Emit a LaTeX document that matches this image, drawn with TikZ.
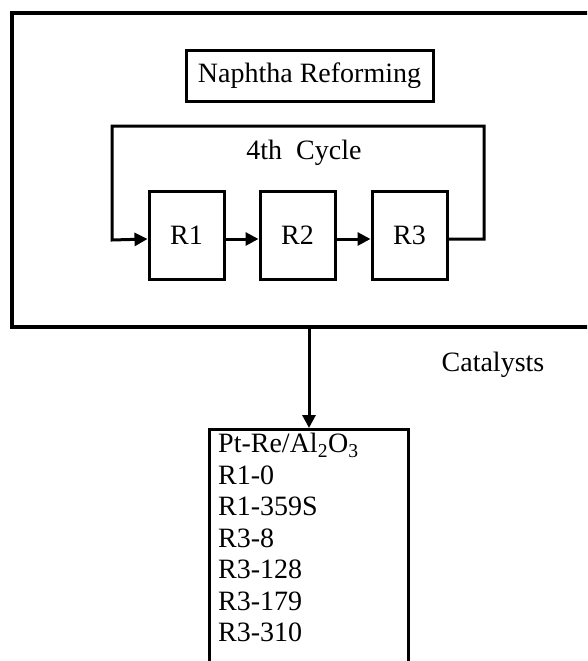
\documentclass[tikz,border=0pt]{standalone}
\usepackage{fontspec}
\setmainfont{Liberation Serif}
\usetikzlibrary{arrows.meta}

\begin{document}
\begin{tikzpicture}[x=1pt,y=-1pt,
  font=\fontsize{28}{31.5}\selectfont,
  box/.style={draw,line width=3pt,inner sep=0pt},
  flow/.style={line width=3pt,-{Triangle[length=13pt,width=13pt]}}]
\useasboundingbox (0,0) rectangle (587,661);
\clip (0,0) rectangle (587,661);
\node (OUTER) [draw,line width=4pt,minimum width=600pt,minimum height=314pt] at (312,170) {};
\node (NAPH) [box,minimum width=247pt,minimum height=50pt] at (309.5,76) {Naphtha Reforming};
\node (CYCLE) at (304,153) {4th\ \ Cycle};
\node (R1) [box,minimum width=75pt,minimum height=88pt] at (186.5,235) {R1};
\node (R2) [box,minimum width=75pt,minimum height=88pt] at (297.5,235) {R2};
\node (R3) [box,minimum width=75pt,minimum height=88pt] at (409.5,235) {R3};
\node (CAT) at (493,365) {Catalysts};
\node (CATBOX) [box,anchor=north,minimum width=199pt,minimum height=260pt] at (309,428) {};
\node (LIST) [anchor=north west,align=left,inner sep=0pt] at (218,433)
  {Pt-Re/Al\textsubscript{2}O\textsubscript{3}\\R1-0\\R1-359S\\R3-8\\R3-128\\R3-179\\R3-310};
\coordinate (TOPR) at (484,126);
\coordinate (TOPL) at (112,240);
\draw [flow] ([yshift=-4pt]R1.east) to ([yshift=-4pt]R2.west);
\draw [flow] ([yshift=-4pt]R2.east) to ([yshift=-4pt]R3.west);
\draw [flow] ([yshift=-4pt]R3.east) -| (TOPR) -| (TOPL) -- ([yshift=-4pt]R1.west);
\draw [flow] (CATBOX.north |- OUTER.south) to (CATBOX.north);
\end{tikzpicture}
\end{document}
